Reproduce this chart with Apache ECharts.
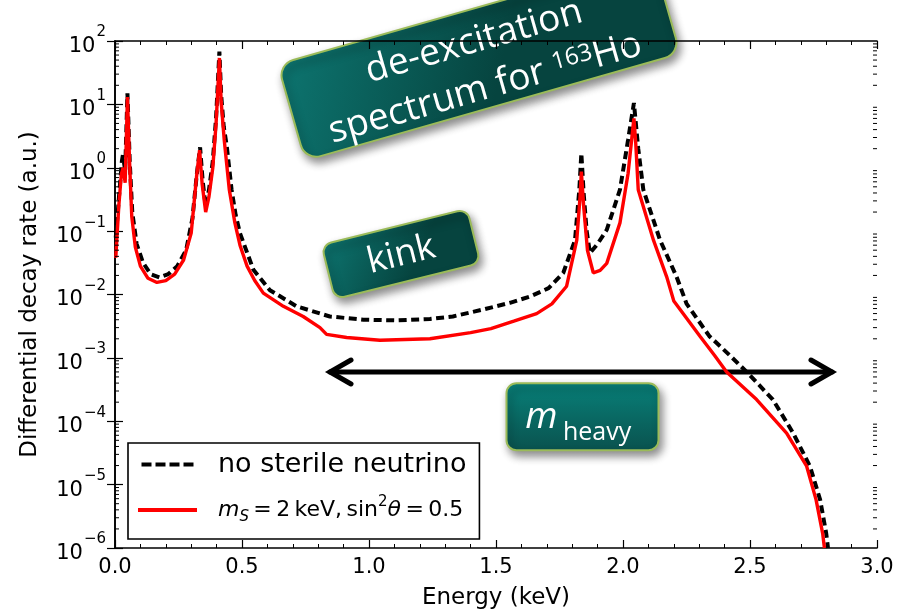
<!DOCTYPE html>
<html><head><meta charset="utf-8">
<script src="https://cdn.jsdelivr.net/npm/echarts@6/dist/echarts.min.js"></script>
<style>html,body{margin:0;padding:0;background:#fff}#chart{width:904px;height:616px}</style>
</head><body><div id="chart"></div>
<script>
// ---- data ----
const energyNoSterile = [0.003,0.015,0.027,0.031,0.040,0.049,0.058,0.068,0.085,0.11,0.14,0.175,0.21,0.245,0.28,0.305,0.322,0.335,0.345,0.357,0.37,0.385,0.398,0.411,0.418,0.428,0.44,0.459,0.475,0.492,0.545,0.61,0.715,0.846,0.978,1.11,1.24,1.33,1.45,1.555,1.634,1.707,1.765,1.811,1.828,1.836,1.845,1.857,1.870,1.90,1.936,1.988,2.02,2.043,2.06,2.08,2.146,2.211,2.25,2.34,2.42,2.487,2.59,2.67,2.736,2.776,2.80,2.807];
const rateNoSterile = [0.079,0.32,1.26,1.6,0.9,15,1.26,0.2,0.063,0.032,0.021,0.0186,0.021,0.028,0.05,0.16,0.79,2.1,0.63,0.245,0.45,1.26,6.3,68,14,4.5,2.2,0.45,0.18,0.093,0.0245,0.0117,0.0065,0.0045,0.004,0.0039,0.0041,0.0045,0.0058,0.0074,0.0093,0.0126,0.022,0.072,0.45,1.7,0.4,0.1,0.045,0.063,0.105,0.45,2.75,10.5,2.0,0.45,0.072,0.019,0.0072,0.0022,0.0011,0.0006,0.00022,0.000065,0.0000195,0.0000058,0.0000017,0.000001];
const energySterile = [0.003,0.015,0.025,0.032,0.040,0.049,0.058,0.066,0.08,0.10,0.13,0.165,0.20,0.235,0.27,0.30,0.322,0.333,0.343,0.357,0.37,0.385,0.398,0.411,0.418,0.43,0.45,0.472,0.492,0.52,0.55,0.584,0.663,0.741,0.807,0.833,0.912,1.043,1.24,1.40,1.48,1.57,1.66,1.72,1.778,1.818,1.831,1.836,1.845,1.86,1.883,1.91,1.936,1.988,2.02,2.034,2.043,2.05,2.06,2.12,2.172,2.20,2.303,2.36,2.408,2.526,2.644,2.723,2.76,2.786,2.793];
const rateSterile = [0.038,0.25,0.79,1.0,0.58,13,1.05,0.17,0.056,0.028,0.018,0.0155,0.0166,0.021,0.035,0.093,0.79,1.9,0.56,0.2,0.35,1.0,5.0,54,11,2.75,0.45,0.135,0.06,0.028,0.0166,0.0105,0.0065,0.0045,0.003,0.00235,0.0021,0.0019,0.002,0.0025,0.0029,0.0038,0.005,0.0071,0.0135,0.072,0.35,0.87,0.25,0.05,0.022,0.024,0.031,0.135,0.81,2.75,6.0,2.5,0.45,0.072,0.019,0.0079,0.0022,0.0011,0.0006,0.00022,0.000065,0.0000195,0.0000058,0.0000017,0.000001];
const seriesNames = ['no sterile neutrino', 'mS = 2 keV, sin²θ = 0.5'];
const xRange = [0, 3.0];
const xTickStep = 0.5;
const yRange = [1e-6, 1e2];
const xAxisTitle = 'Energy (keV)';
const yAxisTitle = 'Differential decay rate (a.u.)';

// log minor tick values (2..9 x 10^n)
const yMinorTicks = [];
for (let e = -6; e < 2; e++) for (let k = 2; k <= 9; k++) yMinorTicks.push(k * Math.pow(10, e));

const toPairs = (xs, ys) => xs.map((x, i) => [x, ys[i]]);
const chart = echarts.init(document.getElementById('chart'), null, {renderer: 'canvas'});
const FONT = 'DejaVu Sans';
const ANN = 'Open Sans';

const xAxisBase = {
  type: 'value', min: xRange[0], max: xRange[1], interval: xTickStep,
  axisLine: {show: true, lineStyle: {color: '#000', width: 1.6}},
  axisTick: {show: true, inside: true, length: 8, lineStyle: {color: '#000', width: 1.2}},
  minorTick: {show: true, splitNumber: 5, length: 4, lineStyle: {color: '#000', width: 1}},
  splitLine: {show: false}
};
const yAxisBase = {
  type: 'log', logBase: 10, min: yRange[0], max: yRange[1],
  axisLine: {show: true, lineStyle: {color: '#000', width: 1.6}},
  axisTick: {show: true, inside: true, length: 8, lineStyle: {color: '#000', width: 1.2}},
  splitLine: {show: false}, minorSplitLine: {show: false}
};

function supText(v) {
  const e = Math.round(Math.log10(v));
  return '{z| }{b|10}{s|' + (e < 0 ? '\u2212' + (-e) : e) + '}';
}

const teal1 = new echarts.graphic.LinearGradient(0, 0, 0.5, 1, [{offset: 0, color: '#0d7570'}, {offset: 1, color: '#06443f'}]);
const teal2 = new echarts.graphic.LinearGradient(0, 0, 0.5, 1, [{offset: 0, color: '#0d7570'}, {offset: 1, color: '#06443f'}]);
const teal3 = new echarts.graphic.LinearGradient(0, 0, 0, 1, [{offset: 0, color: '#088079'}, {offset: 1, color: '#0a524e'}]);
const boxStyle = (fill) => ({fill: fill, stroke: '#9bbb59', lineWidth: 2, shadowBlur: 8, shadowOffsetX: 3, shadowOffsetY: 5, shadowColor: 'rgba(0,0,0,0.45)'});

const option = {
  animation: false,
  backgroundColor: '#fff',
  grid: {left: 115, right: 27, top: 41, bottom: 68, containLabel: false},
  xAxis: [
    Object.assign({}, xAxisBase, {
      position: 'bottom',
      axisLabel: {show: true, color: '#000', fontFamily: FONT, fontSize: 21, margin: 9, formatter: v => v.toFixed(1)},
      name: xAxisTitle, nameLocation: 'middle', nameGap: 39,
      nameTextStyle: {color: '#000', fontFamily: FONT, fontSize: 23}
    }),
    Object.assign({}, xAxisBase, {position: 'top', axisLabel: {show: false}})
  ],
  yAxis: [
    Object.assign({}, yAxisBase, {
      position: 'left',
      axisLabel: {show: true, color: '#000', fontFamily: FONT, margin: 9, formatter: supText,
        rich: {
          z: {fontFamily: FONT, fontSize: 2, lineHeight: 32, width: 0},
          b: {fontFamily: FONT, fontSize: 21, lineHeight: 21, verticalAlign: 'bottom', color: '#000'},
          s: {fontFamily: FONT, fontSize: 15, lineHeight: 15, verticalAlign: 'top', padding: [0, 0, 0, 1], color: '#000'}
        }},
      name: yAxisTitle, nameLocation: 'middle', nameGap: 73, nameRotate: 90,
      nameTextStyle: {color: '#000', fontFamily: FONT, fontSize: 23}
    }),
    Object.assign({}, yAxisBase, {position: 'right', axisLabel: {show: false}})
  ],
  legend: {
    orient: 'vertical', left: 128, top: 443,
    padding: [8, 13, 14, 10], itemGap: 17, itemWidth: 59, itemHeight: 4,
    symbolKeepAspect: true,
    borderColor: '#000', borderWidth: 1.6, backgroundColor: '#fff',
    selectedMode: false,
    data: [
      {name: seriesNames[0], icon: 'path://M0,0h10v4h-10z M14,0h10v4h-10z M28,0h10v4h-10z M42,0h10v4h-10z', itemStyle: {color: '#000'}},
      {name: seriesNames[1], icon: 'path://M0,0h59v4h-59z', itemStyle: {color: '#ff0000'}}
    ],
    formatter: function (name) {
      if (name === seriesNames[0]) return '{gap| }{t|no sterile neutrino}';
      return '{gap| }{it|m}{sub|S}{t2|\u2009=\u20092\u2009keV,\u2009sin}{sup|2}{it|θ}{t2|\u2009=\u20090.5}';
    },
    textStyle: {
      color: '#000', fontFamily: FONT, fontSize: 27,
      rich: {
        gap: {width: 16, fontSize: 10, lineHeight: 30},
        t: {fontFamily: FONT, fontSize: 27, lineHeight: 30, color: '#000'},
        t2: {fontFamily: FONT, fontSize: 22, lineHeight: 30, color: '#000'},
        it: {fontFamily: FONT, fontStyle: 'italic', fontSize: 22, lineHeight: 30, color: '#000'},
        sub: {fontFamily: FONT, fontStyle: 'italic', fontSize: 15, lineHeight: 16, verticalAlign: 'bottom', color: '#000'},
        sup: {fontFamily: FONT, fontSize: 15, lineHeight: 16, verticalAlign: 'top', color: '#000'}
      }
    }
  },
  series: [
    {
      name: seriesNames[0], type: 'line', xAxisIndex: 0, yAxisIndex: 0,
      data: toPairs(energyNoSterile, rateNoSterile),
      showSymbol: false, symbol: 'none', smooth: false, clip: true, z: 3,
      itemStyle: {color: '#000'},
      lineStyle: {color: '#000', width: 4, type: [8, 4.5]}
    },
    {
      name: seriesNames[1], type: 'line', xAxisIndex: 0, yAxisIndex: 0,
      data: toPairs(energySterile, rateSterile),
      showSymbol: false, symbol: 'none', smooth: false, clip: true, z: 4,
      itemStyle: {color: '#ff0000'},
      lineStyle: {color: '#ff0000', width: 3.4}
    },
    {
      name: 'yMinorTicks', type: 'custom', xAxisIndex: 0, yAxisIndex: 0, silent: true, z: 5,
      data: yMinorTicks.map(v => [xRange[0], v]),
      renderItem: function (params, api) {
        const l = api.coord([xRange[0], api.value(1)]);
        const r = api.coord([xRange[1], api.value(1)]);
        return {type: 'group', children: [
          {type: 'line', shape: {x1: l[0], y1: l[1], x2: l[0] + 4, y2: l[1]}, style: {stroke: '#000', lineWidth: 1}},
          {type: 'line', shape: {x1: r[0] - 4, y1: r[1], x2: r[0], y2: r[1]}, style: {stroke: '#000', lineWidth: 1}}
        ]};
      }
    }
  ],
  graphic: {elements: [
    {
      type: 'group', x: 479, y: 59, rotation: 15.9 * Math.PI / 180, z: 100,
      children: [
        {type: 'rect', shape: {x: -195, y: -50, width: 390, height: 100, r: 16}, style: boxStyle(teal1)},
        {type: 'text', x: 0, y: -18, style: {text: 'de-excitation', fill: '#fff', align: 'center', verticalAlign: 'middle', fontFamily: ANN, fontSize: 37}},
        {type: 'text', x: -2, y: 30, style: {
          text: '{a|spectrum for }{s|163}{a|Ho}',
          fill: '#fff', align: 'center', verticalAlign: 'middle', fontFamily: ANN, fontSize: 37,
          rich: {
            a: {fontFamily: ANN, fontSize: 37, lineHeight: 36, fill: '#fff'},
            s: {fontFamily: ANN, fontSize: 24, lineHeight: 24, verticalAlign: 'top', fill: '#fff'}
          }}}
      ]
    },
    {
      type: 'group', x: 401, y: 254, rotation: 13.9 * Math.PI / 180, z: 100,
      children: [
        {type: 'rect', shape: {x: -75, y: -28, width: 150, height: 56, r: 10}, style: boxStyle(teal2)},
        {type: 'text', x: 0, y: 1, style: {text: 'kink', fill: '#fff', align: 'center', verticalAlign: 'middle', fontFamily: ANN, fontSize: 36}}
      ]
    },
    {
      type: 'group', x: 582.5, y: 416.7, z: 100,
      children: [
        {type: 'rect', shape: {x: -76, y: -33.5, width: 152, height: 67, r: 10}, style: boxStyle(teal3)},
        {type: 'text', x: -25, y: 1, style: {text: 'm', fill: '#fff', align: 'right', verticalAlign: 'middle', fontFamily: ANN, fontStyle: 'italic', fontSize: 37}},
        {type: 'text', x: -19.5, y: 16, style: {text: 'heavy', fill: '#fff', align: 'left', verticalAlign: 'middle', fontFamily: ANN, fontSize: 25}}
      ]
    },
    {
      type: 'group', z: 100,
      children: [
        {type: 'polyline', shape: {points: [[330, 372], [832, 372]]}, style: {stroke: '#000', lineWidth: 5, fill: null, lineCap: 'round'}},
        {type: 'polyline', shape: {points: [[351, 360], [330, 372], [351, 384]]}, style: {stroke: '#000', lineWidth: 5, fill: null, lineCap: 'round', lineJoin: 'miter'}},
        {type: 'polyline', shape: {points: [[811, 360], [832, 372], [811, 384]]}, style: {stroke: '#000', lineWidth: 5, fill: null, lineCap: 'round', lineJoin: 'miter'}}
      ]
    }
  ]}
};
chart.setOption(option);
</script>
</body></html>
